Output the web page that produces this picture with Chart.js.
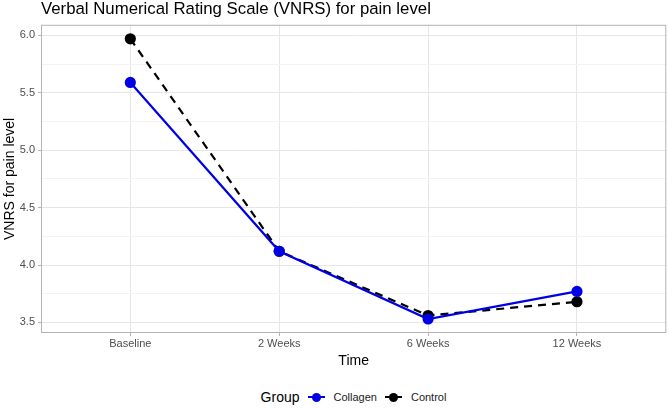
<!DOCTYPE html>
<html>
<head>
<meta charset="utf-8">
<script src="https://cdn.jsdelivr.net/npm/chart.js@4"></script>
<style>
  body { margin: 0; background: #fff; font-family: "Liberation Sans", Arial, sans-serif; overflow: hidden; }
  #wrap { position: relative; width: 669px; height: 408px; overflow: hidden; }
  #box { position: absolute; left: 0; top: 0; width: 673px; height: 374px; }
  #legend { position: absolute; left: 45px; top: 389px; width: 625px; height: 16px; display: flex; justify-content: center; align-items: center; font-size: 11px; color: #1a1a1a; }
  #legend .ttl { font-size: 14px; color: #000; margin-right: 8px; }
  #legend .key { position: relative; width: 17px; height: 14px; margin-right: 9px; }
  #legend .key .ln { position: absolute; left: 0; top: 6px; width: 17px; height: 0; border-top: 2px solid; }
  #legend .key .dt { position: absolute; left: 4px; top: 2.5px; width: 9px; height: 9px; border-radius: 50%; }
  #legend .lbl { margin-right: 8px; }
</style>
</head>
<body>
<div id="wrap">
  <div id="box"><canvas id="chart"></canvas></div>
  <div id="legend"></div>
</div>
<script>
const timepoints = ['Baseline', '2 Weeks', '6 Weeks', '12 Weeks']
const collagen = [5.59, 4.12, 3.53, 3.77]
const control = [5.97, 4.12, 3.56, 3.68]
const groupNames = ['Collagen', 'Control']
const groupColors = ['#0000e6', '#000000']

const toPoints = vals => vals.map((v, i) => ({ x: i, y: v }))
const isMajor = v => Math.round(v * 100) % 50 === 0

// panel border like theme_light
const panelBorder = {
  id: 'panelBorder',
  afterDraw(chart) {
    const { ctx, chartArea: a } = chart
    ctx.save()
    ctx.strokeStyle = '#b3b3b3'
    ctx.lineWidth = 1
    ctx.strokeRect(a.left + 0.5, a.top + 0.5, a.right - a.left - 1, a.bottom - a.top - 1)
    ctx.restore()
  }
}

const config = {
  type: 'line',
  data: {
    datasets: [
      {
        label: groupNames[1],
        data: toPoints(control),
        borderColor: groupColors[1],
        backgroundColor: groupColors[1],
        borderDash: [8, 6],
        borderWidth: 2.2,
        pointRadius: 4.5,
        pointHoverRadius: 4.5,
        order: 2
      },
      {
        label: groupNames[0],
        data: toPoints(collagen),
        borderColor: groupColors[0],
        backgroundColor: groupColors[0],
        borderWidth: 2.2,
        pointRadius: 4.5,
        pointHoverRadius: 4.5,
        order: 1
      }
    ]
  },
  options: {
    responsive: true,
    maintainAspectRatio: false,
    animation: false,
    layout: { padding: { left: 2, right: 3, top: 0, bottom: 0 } },
    plugins: {
      legend: { display: false },
      tooltip: { enabled: false },
      title: {
        display: true,
        fullSize: false,
        text: 'Verbal Numerical Rating Scale (VNRS) for pain level',
        align: 'start',
        color: '#000',
        font: { family: 'Liberation Sans', size: 16.8, weight: 'normal', lineHeight: 1.1 },
        padding: { top: 0, bottom: 6.3 }
      }
    },
    scales: {
      x: {
        type: 'linear',
        min: -0.6,
        max: 3.6,
        afterBuildTicks: axis => { axis.ticks = timepoints.map((t, i) => ({ value: i })) },
        ticks: {
          callback: v => timepoints[v],
          color: '#4d4d4d',
          font: { family: 'Liberation Sans', size: 11 },
          padding: 1.6
        },
        grid: { color: '#e6e6e6', lineWidth: 1, drawTicks: true, tickLength: 3, tickColor: '#b3b3b3' },
        border: { display: false },
        title: {
          display: true,
          text: 'Time',
          color: '#000',
          font: { family: 'Liberation Sans', size: 14 },
          padding: { top: 0, bottom: 4.8 }
        }
      },
      y: {
        min: 3.408,
        max: 6.092,
        afterBuildTicks: axis => {
          const t = []
          for (let v = 3.5; v <= 6.001; v += 0.25) t.push({ value: Math.round(v * 100) / 100 })
          axis.ticks = t
        },
        afterFit: axis => { axis.width = 39 },
        ticks: {
          callback: v => (isMajor(v) ? v.toFixed(1) : ''),
          color: '#4d4d4d',
          font: { family: 'Liberation Sans', size: 11 },
          padding: 3
        },
        grid: {
          color: c => (isMajor(c.tick.value) ? '#e6e6e6' : '#f3f3f3'),
          lineWidth: 1,
          tickLength: 3,
          tickColor: c => (isMajor(c.tick.value) ? '#b3b3b3' : 'rgba(0,0,0,0)')
        },
        border: { display: false },
        title: {
          display: true,
          text: 'VNRS for pain level',
          color: '#000',
          font: { family: 'Liberation Sans', size: 14 },
          padding: { top: 0, bottom: 2 }
        }
      }
    }
  },
  plugins: [panelBorder]
}

new Chart(document.getElementById('chart'), config)

// legend row: Group  -o- Collagen  -o- Control
const legend = document.getElementById('legend')
let html = '<span class="ttl">Group</span>'
groupNames.forEach((name, i) => {
  const dash = i === 1 ? 'dashed' : 'solid'
  html += `<span class="key"><span class="ln" style="border-top-color:${groupColors[i]};border-top-style:${dash}"></span>` +
    `<span class="dt" style="background:${groupColors[i]}"></span></span><span class="lbl">${name}</span>`
})
legend.innerHTML = html
</script>
</body>
</html>
